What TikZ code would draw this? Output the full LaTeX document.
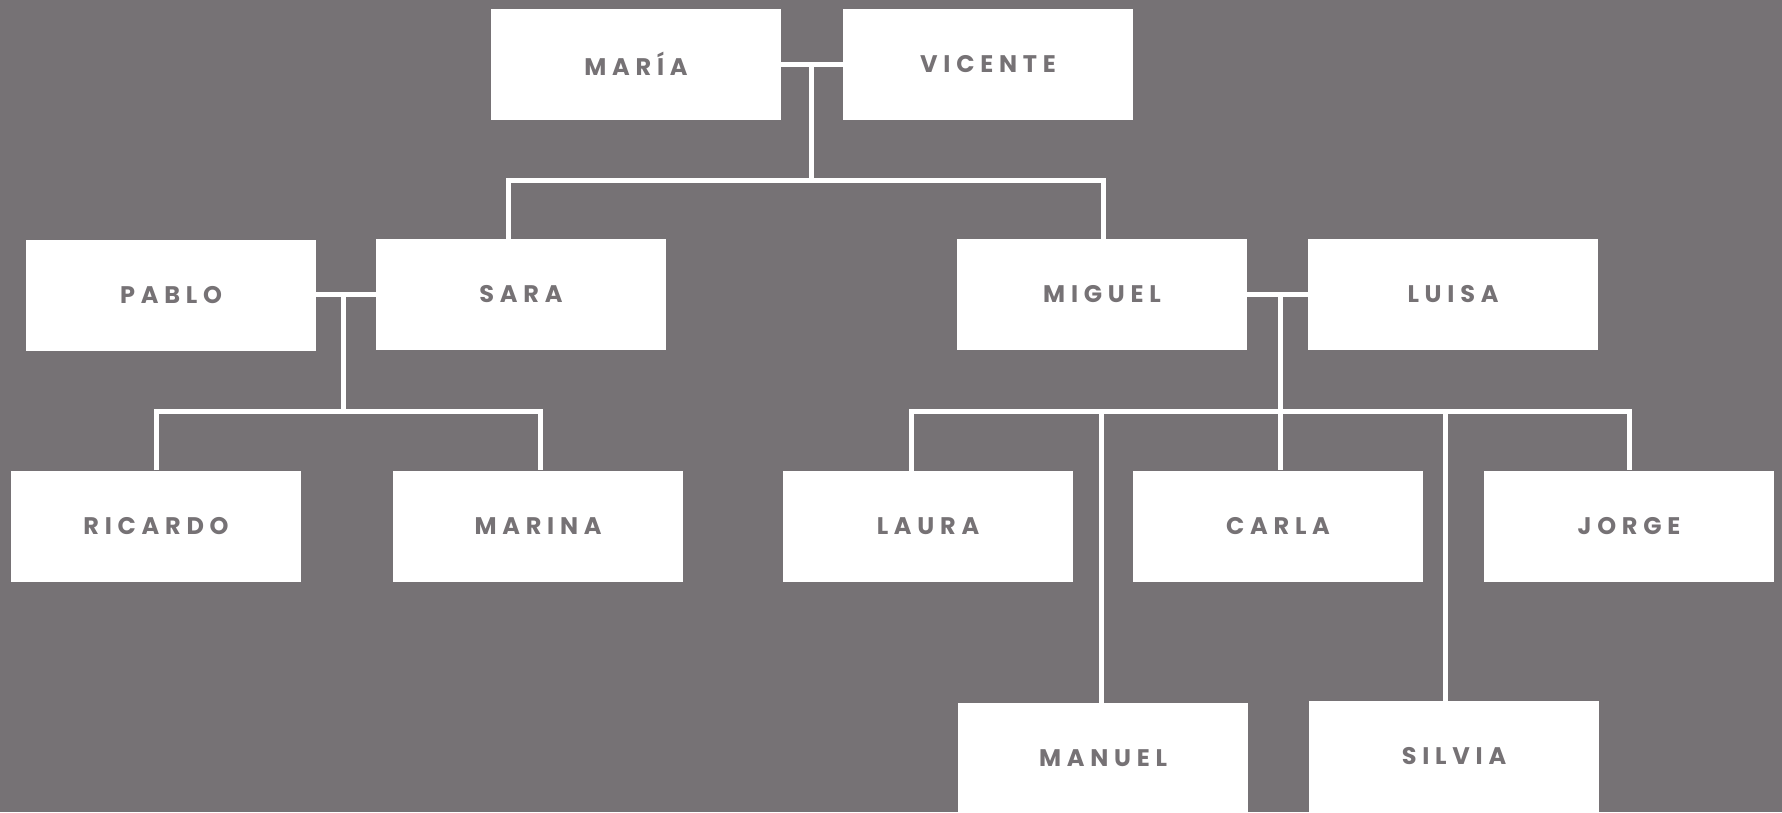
\documentclass[tikz,border=0pt]{standalone}
\usepackage{fontspec}
\newfontfamily\lbl{Poppins}[LetterSpace=24]
\definecolor{bg}{RGB}{118,114,117}
\definecolor{txt}{RGB}{118,114,117}
\begin{document}
\begin{tikzpicture}[x=1pt,y=-1pt,
  person/.style={fill=white, minimum width=290pt, minimum height=111pt, inner sep=0pt, text=txt,
    font=\lbl\bfseries\fontsize{24}{24}\selectfont},
  link/.style={draw=white, line width=5pt}]
\fill[bg] (0,0) rectangle (1782,812);
\useasboundingbox (0,0) rectangle (1782,812);
% generation 1
\node[person] (maria)   at (636,64)    {MARÍA};
\node[person] (vicente) at (988,64)    {VICENTE};
% generation 2
\node[person] (pablo)   at (171,295.5) {PABLO};
\node[person] (sara)    at (521,294.5) {SARA};
\node[person] (miguel)  at (1102,294.5) {MIGUEL};
\node[person] (luisa)   at (1453,294.5) {LUISA};
% generation 3
\node[person] (ricardo) at (156,526)   {RICARDO};
\node[person] (marina)  at (538,526)   {MARINA};
\node[person] (laura)   at (928,526.5) {LAURA};
\node[person] (carla)   at (1278,526)  {CARLA};
\node[person] (jorge)   at (1629,526)  {JORGE};
\node[person] (manuel)  at (1103,758.5) {MANUEL};
\node[person] (silvia)  at (1454,756.5) {SILVIA};
% junctions
\coordinate (m1) at (811,64);
\coordinate (b1) at (811,180);
\coordinate (b1l) at (508,180);
\coordinate (b1r) at (1103.5,180);
\coordinate (m2) at (343,294);
\coordinate (b2) at (343,411);
\coordinate (b2l) at (156,411);
\coordinate (b2r) at (540,411);
\coordinate (m3) at (1280,294);
\coordinate (b3) at (1280,411);
\coordinate (b3l) at (911.5,411);
\coordinate (b3r) at (1632,411);
\coordinate (b3m) at (1101,411);
\coordinate (b3s) at (1445.6,411);
% couple 1
\draw[link] (maria.east) -- (vicente.west);
\draw[link] (m1) -- (b1);
\draw[link] (b1l |- sara.north) -- (b1l) -- (b1r) -- (b1r |- miguel.north);
% couple 2
\draw[link] (pablo.east |- m2) -- (sara.west |- m2);
\draw[link] (m2) -- (b2);
\draw[link] (b2l |- ricardo.north) -- (b2l) -- (b2r) -- (b2r |- marina.north);
% couple 3
\draw[link] (miguel.east |- m3) -- (luisa.west |- m3);
\draw[link] (m3) -- (b3);
\draw[link] (b3l |- laura.north) -- (b3l) -- (b3r);
\draw[link] (b3m) -- (b3m |- manuel.north);
\draw[link] (b3) -- (b3 |- carla.north);
\draw[link] (b3s) -- (b3s |- silvia.north);
\draw[link] (jorge.north |- b3r) -- (jorge.north);
\end{tikzpicture}
\end{document}
